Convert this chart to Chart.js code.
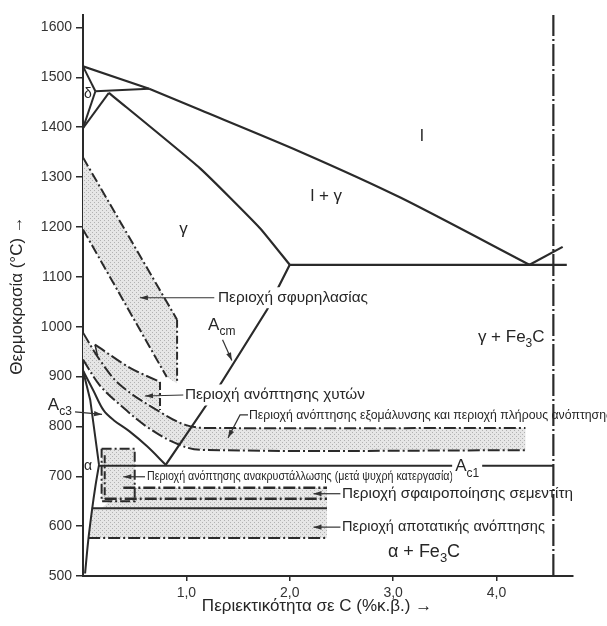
<!DOCTYPE html>
<html>
<head>
<meta charset="utf-8">
<script src="https://cdn.jsdelivr.net/npm/chart.js@4.4.1/dist/chart.umd.min.js"></script>
<style>
  html, body { margin: 0; padding: 0; background: #fff; }
  canvas { display: block; }
</style>
</head>
<body>
<canvas id="chart" width="607" height="626"></canvas>
<script>
// Fe-C diagram: points are [C wt%, temperature °C]
const xTicks = [1, 2, 3, 4];
const yTicks = [500, 600, 700, 800, 900, 1000, 1100, 1200, 1300, 1400, 1500, 1600];

// phase boundaries
const liquidusDelta = [[0, 1522], [0.64, 1477]];
const liquidus = [[0.64, 1477], [1.13, 1435], [2.10, 1351], [3.07, 1259], [4.32, 1124]];
const liquidusFe3C = [[4.32, 1124], [4.64, 1160]];
const eutectic = [[2.0, 1124], [4.68, 1124]];
const solidus = [[0.25, 1469], [1.13, 1318], [1.71, 1198], [2.0, 1124]];
const peritectic = [[0.12, 1472], [0.64, 1477]];
const deltaTop = [[0, 1522], [0.12, 1472]];
const deltaBottom = [[0, 1398], [0.12, 1472]];
const deltaGamma = [[0, 1398], [0.25, 1469]];
const acm = [[2.0, 1124], [1.78, 1034], [1.325, 883], [0.8, 723]];
const a3 = [[0, 912], [0.1, 872], [0.2, 832], [0.3, 812], [0.45, 790], [0.62, 760], [0.8, 723]];
const alphaGamma = [[0, 912], [0.07, 853], [0.155, 723]];
const alphaSolvus = [[0.155, 723], [0.12, 680], [0.087, 632], [0.05, 570], [0.02, 505]];
const a1 = [[0.155, 721], [4.55, 721]];
const fe3cLine = [[4.55, 500], [4.55, 1625]];

// heat-treatment ranges
const forgeTop = [[0, 1339], [0.91, 1014]];
const forgeBottom = [[0, 1195], [0.81, 899]];
const forgeRight = [[0.91, 1014], [0.91, 886]];
const castTop = [[0.116, 964], [0.45, 918], [0.745, 889]];
const castRight = [[0.745, 889], [0.745, 833]];
const castLeft = [[0.116, 964], [0.14, 942]];
const normTop = [[0, 988], [0.16, 934], [0.36, 883], [0.745, 829], [0.99, 803], [1.18, 797], [4.28, 797]];
const normBottom = [[0, 934], [0.16, 883], [0.36, 843], [0.62, 799], [0.89, 767], [1.13, 753], [4.28, 752]];
const recrystBox = [[0.18, 755], [0.5, 755], [0.5, 650], [0.18, 650], [0.18, 755]];
const recrystInner = [[0.21, 742], [0.21, 655]];
const spherTop = [[0.39, 677], [2.36, 677]];
const spherBottom = [[0.21, 655], [2.36, 655]];
const stressTop = [[0.085, 636], [2.36, 636]];
const stressBottom = [[0.05, 576], [2.36, 576]];

const ink = '#2a2a2a';
const family = '"Liberation Sans", Arial, Helvetica, sans-serif';

// dotted grey fill
const pc = document.createElement('canvas');
pc.width = 4; pc.height = 4;
const pg = pc.getContext('2d');
pg.fillStyle = '#e6e6e6'; pg.fillRect(0, 0, 4, 4);
pg.fillStyle = '#b2b2b2'; pg.fillRect(0, 0, 1, 1); pg.fillRect(2, 2, 1, 1);
const stipple = pg.createPattern(pc, 'repeat');

const toPts = a => a.map(([x, y]) => ({ x, y }));

function line(data, dash, width, tension) {
  return {
    data: toPts(data), showLine: true, borderColor: ink, borderWidth: width || 2,
    borderDash: dash || [], pointRadius: 0, fill: false, tension: tension || 0, order: 1
  };
}
function area(data) {
  return {
    data: toPts(data.concat([data[0]])), showLine: true, borderWidth: 0,
    borderColor: 'rgba(0,0,0,0)', backgroundColor: stipple, fill: 'shape',
    pointRadius: 0, tension: 0, order: 2
  };
}

const dashDot = [12, 3, 2, 3];
const longDashDot = [22, 3, 2, 3];

const forgeFill = forgeTop.concat([forgeRight[1]], forgeBottom.slice().reverse());
const castFill = castTop.concat([castRight[1]], normTop.filter(p => p[0] > 0.12 && p[0] < 0.745).reverse());
const normFill = normTop.concat(normBottom.slice().reverse());
const lowFill = spherTop.concat(stressBottom.slice().reverse(), [stressTop[0], [recrystBox[0][0], stressTop[0][1]]]);

const datasets = [
  line(liquidusDelta, [], 2.2), line(liquidus, [], 2.2, 0.25), line(liquidusFe3C, [], 2.2),
  line(eutectic, [], 2.2), line(solidus, [], 2.2, 0.15), line(peritectic, [], 2),
  line(deltaTop, [], 2), line(deltaBottom, [], 2), line(deltaGamma, [], 2),
  line(acm, [], 2.2), line(a3, [], 2, 0.35), line(alphaGamma, [], 2), line(alphaSolvus, [], 2, 0.3),
  line(a1, [], 2), line(fe3cLine, longDashDot, 2.2),
  line(forgeTop, [10, 3, 2, 3], 2), line(forgeBottom, [10, 3, 2, 3], 2), line(forgeRight, [8, 3, 2, 3], 2),
  line(castTop, dashDot, 2, 0.3), line(castRight, [8, 3, 2, 3], 2), line(castLeft, [], 1.5),
  line(normTop, dashDot, 2, 0.35), line(normBottom, dashDot, 2, 0.35),
  line(recrystBox, [10, 3, 2, 3], 2), line(recrystInner, [8, 3, 2, 3], 2),
  line(spherTop, dashDot, 2.4), line(spherBottom, dashDot, 2.4),
  line(stressTop, [], 2), line(stressBottom, dashDot, 2),
  area(forgeFill), area(castFill), area(normFill), area(recrystBox.slice(0, 4)), area(lowFill)
];

// text labels and arrows, placed in data coordinates
const notes = [
  { parts: [['Περιοχή σφυρηλασίας', 0]], at: [1.306, 1058], size: 14, width: 150, bg: true },
  { parts: [['Περιοχή ανόπτησης χυτών', 0]], at: [0.986, 863], size: 14, width: 180, bg: true },
  { parts: [['Περιοχή ανόπτησης εξομάλυνσης και περιοχή πλήρους ανόπτησης', 0]], at: [1.605, 823], size: 13, width: 363 },
  { parts: [['Περιοχή ανόπτησης ανακρυστάλλωσης (μετά ψυχρή κατεργασία)', 0]], at: [0.619, 699], size: 13, width: 306 },
  { parts: [['Περιοχή σφαιροποίησης σεμεντίτη', 0]], at: [2.505, 665], size: 15, width: 231 },
  { parts: [['Περιοχή αποτατικής ανόπτησης', 0]], at: [2.505, 598], size: 15, width: 203 },
  { parts: [['l', 0]], at: [3.26, 1381], size: 17 },
  { parts: [['l + γ', 0]], at: [2.2, 1261], size: 17 },
  { parts: [['γ', 0]], at: [0.93, 1195], size: 17 },
  { parts: [['γ + Fe', 0], ['3', 1], ['C', 0]], at: [3.82, 978], size: 17 },
  { parts: [['α + Fe', 0], ['3', 1], ['C', 0]], at: [2.95, 548], size: 18 },
  { parts: [['δ', 0]], at: [0.01, 1467], size: 14 },
  { parts: [['α', 0]], at: [0.01, 721], size: 14 },
  { parts: [['A', 0], ['cm', 1]], at: [1.21, 1002], size: 17 },
  { parts: [['A', 0], ['c1', 1]], at: [3.6, 719], size: 17, bg: true },
  { parts: [['A', 0], ['c3', 1]], at: [-0.34, 843], size: 17 }
];
const arrows = [
  [[1.27, 1058], [0.55, 1058]],
  [[0.97, 863], [0.6, 861]],
  [[1.596, 823], [1.519, 823], [1.403, 777]],
  [[0.6, 699], [0.39, 699]],
  [[2.49, 665], [2.23, 665]],
  [[2.49, 598], [2.23, 598]],
  [[1.35, 974], [1.44, 932]],
  [[-0.077, 829], [0.184, 824]]
];

function drawParts(ctx, parts, x, y, size, width, bg) {
  const segs = parts.map(([t, sub]) => {
    const s = sub ? Math.round(size * 0.72) : size;
    ctx.font = s + 'px ' + family;
    return { t, sub, s, w: ctx.measureText(t).width };
  });
  const total = segs.reduce((a, s) => a + s.w, 0);
  const k = width ? width / total : 1;
  if (bg) {
    ctx.fillStyle = '#fff';
    ctx.fillRect(x - 3, y - size * 0.75, total * k + 6, size * 1.5);
  }
  ctx.save();
  ctx.translate(x, y);
  ctx.scale(k, 1);
  ctx.fillStyle = '#262626';
  ctx.textBaseline = 'middle';
  ctx.textAlign = 'left';
  let cx = 0;
  segs.forEach(s => {
    ctx.font = s.s + 'px ' + family;
    ctx.fillText(s.t, cx, s.sub ? size * 0.38 : 0);
    cx += s.w;
  });
  ctx.restore();
}

function drawArrow(ctx, pts) {
  ctx.save();
  ctx.strokeStyle = '#333';
  ctx.fillStyle = '#333';
  ctx.lineWidth = 1.2;
  ctx.beginPath();
  pts.forEach((p, i) => i ? ctx.lineTo(p[0], p[1]) : ctx.moveTo(p[0], p[1]));
  ctx.stroke();
  const [bx, by] = pts[pts.length - 2], [tx, ty] = pts[pts.length - 1];
  const ang = Math.atan2(ty - by, tx - bx);
  ctx.translate(tx, ty);
  ctx.rotate(ang);
  ctx.beginPath();
  ctx.moveTo(0, 0); ctx.lineTo(-8, -2.6); ctx.lineTo(-8, 2.6); ctx.closePath();
  ctx.fill();
  ctx.restore();
}

const notesPlugin = {
  id: 'notes',
  afterDraw(chart) {
    const { ctx, scales: { x, y }, chartArea } = chart;
    const px = c => x.getPixelForValue(c), py = t => y.getPixelForValue(t);
    notes.forEach(n => drawParts(ctx, n.parts, px(n.at[0]), py(n.at[1]), n.size, n.width, n.bg));
    arrows.forEach(a => drawArrow(ctx, a.map(p => [px(p[0]), py(p[1])])));

    // axis titles
    ctx.save();
    ctx.fillStyle = '#262626';
    ctx.textAlign = 'center';
    ctx.textBaseline = 'middle';
    ctx.font = '17px ' + family;
    ctx.translate(17, (chartArea.top + chartArea.bottom) / 2);
    ctx.rotate(-Math.PI / 2);
    ctx.fillText('Θερμοκρασία (°C) →', 0, 0);
    ctx.restore();
    ctx.save();
    ctx.fillStyle = '#262626';
    ctx.textAlign = 'center';
    ctx.textBaseline = 'middle';
    ctx.font = '17px ' + family;
    ctx.fillText('Περιεκτικότητα σε C (%κ.β.) →', 317, 606);
    ctx.restore();
  }
};

new Chart(document.getElementById('chart'), {
  type: 'scatter',
  data: { datasets },
  options: {
    responsive: false,
    animation: false,
    devicePixelRatio: 1,
    layout: { padding: { top: 15, right: 34, left: 0, bottom: 0 } },
    plugins: { legend: { display: false }, tooltip: { enabled: false } },
    scales: {
      x: {
        type: 'linear', min: 0, max: 4.74,
        afterBuildTicks: s => { s.ticks = xTicks.map(v => ({ value: v })); },
        afterFit: s => { s.height = 50; },
        ticks: {
          autoSkip: false, maxRotation: 0, padding: 4, color: '#333',
          font: { family: family, size: 14 },
          callback: v => v.toFixed(1).replace('.', ',')
        },
        grid: { display: true, drawOnChartArea: false, drawTicks: true, tickLength: 5, color: ink, lineWidth: 1.5 },
        border: { display: true, color: ink, width: 2 }
      },
      y: {
        type: 'linear', min: 500, max: 1625,
        afterBuildTicks: s => { s.ticks = yTicks.map(v => ({ value: v })); },
        afterFit: s => { s.width = 83; },
        ticks: { padding: 4, color: '#333', font: { family: family, size: 14 }, callback: v => String(v) },
        grid: { display: true, drawOnChartArea: false, drawTicks: true, tickLength: 7, color: ink, lineWidth: 1.5 },
        border: { display: true, color: ink, width: 2 }
      }
    }
  },
  plugins: [notesPlugin]
});
</script>
</body>
</html>
